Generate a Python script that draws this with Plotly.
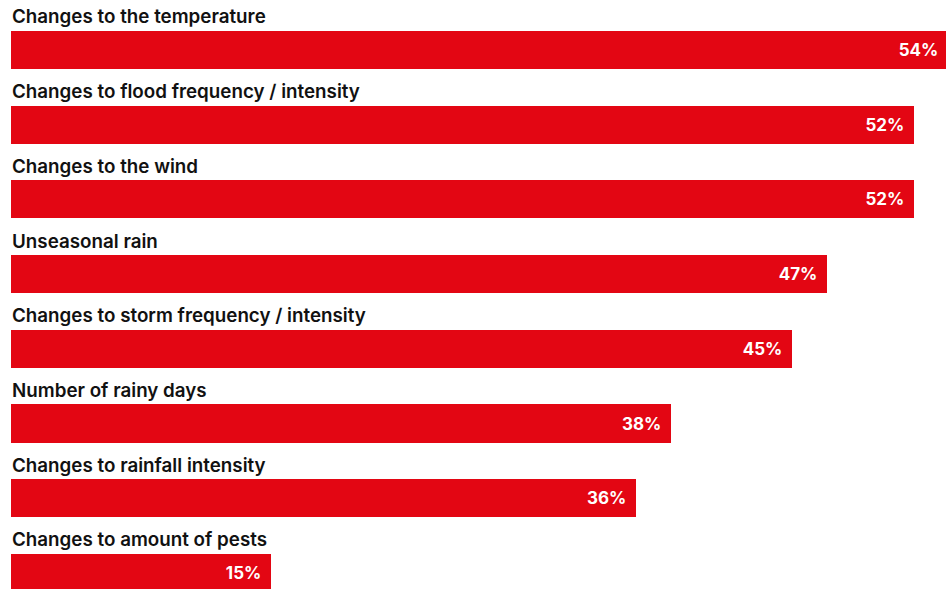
import plotly.graph_objects as go

# Share of respondents reporting each change
categories = [
    "Changes to the temperature",
    "Changes to flood frequency / intensity",
    "Changes to the wind",
    "Unseasonal rain",
    "Changes to storm frequency / intensity",
    "Number of rainy days",
    "Changes to rainfall intensity",
    "Changes to amount of pests",
]
values = [54, 52, 52, 47, 45, 38, 36, 15]

RED = "#e30613"
FONT = "Inter"
PAD = "\u00a0\u2009"  # small gap between the value and the end of the bar

fig = go.Figure(
    go.Bar(
        x=values,
        y=categories,
        orientation="h",
        marker=dict(color=RED, line=dict(width=0)),
        width=0.51,
        texttemplate="%{x}%" + PAD,
        textposition="inside",
        insidetextanchor="end",
        insidetextfont=dict(family=FONT, size=17, color="white", weight=700),
        constraintext="none",
        hoverinfo="skip",
    )
)

# category label above each bar
annotations = [
    dict(
        x=0, y=cat, xref="x", yref="y",
        text=cat,
        xanchor="left", yanchor="middle",
        xshift=-1, yshift=33,
        showarrow=False,
        font=dict(family=FONT, size=18.8, color="#111111", weight=600),
    )
    for cat in categories
]

fig.update_layout(
    width=946, height=589,
    margin=dict(l=11, r=0, t=0, b=0),
    paper_bgcolor="white", plot_bgcolor="white",
    showlegend=False,
    bargap=0,
    xaxis=dict(range=[0, 53.86], visible=False, fixedrange=True),
    yaxis=dict(
        type="category",
        categoryorder="array", categoryarray=categories,
        range=[7.215, -0.669],
        visible=False, fixedrange=True,
    ),
    annotations=annotations,
)

fig.write_html("out.html", config={"displayModeBar": False})
